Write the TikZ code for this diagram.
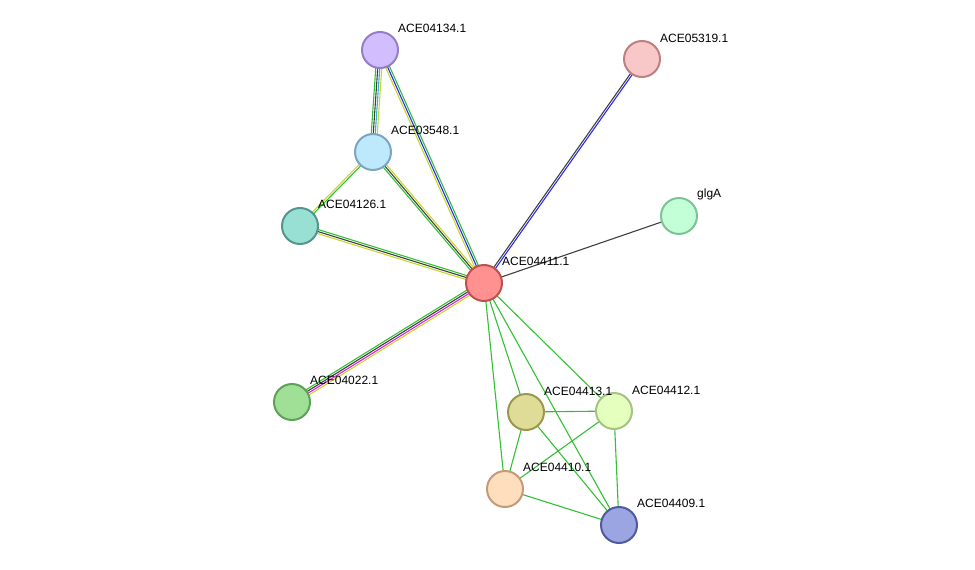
\documentclass[tikz,border=0pt]{standalone}
\usepackage{fontspec}
\setmainfont{Liberation Sans}
\usetikzlibrary{calc}
\definecolor{eg}{HTML}{33C033}
\definecolor{ey}{HTML}{C4D92A}
\definecolor{ek}{HTML}{404040}
\definecolor{eb}{HTML}{2A2AF0}
\definecolor{ec}{HTML}{30B0D8}
\definecolor{em}{HTML}{E020E0}
\newcommand\ed[4]{\draw[line width=1.1pt,#4] ($(#1)!#3!90:(#2)$) -- ($(#2)!#3!-90:(#1)$);}
\begin{document}
\begin{tikzpicture}[x=1pt,y=-1pt,
  prot/.style={circle,minimum size=36pt,inner sep=0pt,line width=2pt},
  lab/.style={anchor=west,font=\fontsize{12}{12}\selectfont,inner sep=1pt}]
\useasboundingbox (0,0) rectangle (975,570);
\coordinate (a134) at (380,50);
\coordinate (a319) at (642,59);
\coordinate (a548) at (373,152);
\coordinate (glg) at (679,216);
\coordinate (a126) at (300,226);
\coordinate (a411) at (484,283);
\coordinate (a022) at (292,402);
\coordinate (a413) at (526,412);
\coordinate (a412) at (614,411);
\coordinate (a410) at (505,489);
\coordinate (a409) at (619,525);
% edges
\ed{a134}{a548}{-3pt}{eg}\ed{a134}{a548}{-1pt}{ek}\ed{a134}{a548}{1pt}{ec}\ed{a134}{a548}{3pt}{ey}
\ed{a134}{a411}{-2pt}{ey}\ed{a134}{a411}{0pt}{eb}\ed{a134}{a411}{2pt}{eg}
\ed{a548}{a126}{-1pt}{ey}\ed{a548}{a126}{1pt}{eg}
\ed{a548}{a411}{-2pt}{eg}\ed{a548}{a411}{0pt}{ek}\ed{a548}{a411}{2pt}{ey}
\ed{a126}{a411}{-2pt}{ey}\ed{a126}{a411}{0pt}{ek}\ed{a126}{a411}{2pt}{eg}
\ed{a022}{a411}{-3pt}{ey}\ed{a022}{a411}{-1pt}{em}\ed{a022}{a411}{1pt}{ek}\ed{a022}{a411}{3pt}{eg}
\ed{a319}{a411}{-1pt}{ek}\ed{a319}{a411}{1pt}{eb}
\ed{glg}{a411}{0pt}{ek}
\foreach \u/\v in {a411/a413,a411/a412,a411/a410,a411/a409,a413/a412,a413/a410,a413/a409,a412/a410,a412/a409,a410/a409}
  {\ed{\u}{\v}{0pt}{eg}}
% nodes
\node[prot,fill=blue!20!violet!25,draw=violet!60!gray,fill={rgb,255:red,210;green,190;blue,255},draw={rgb,255:red,150;green,125;blue,200}] (n134) at (a134) {};
\node[prot,fill={rgb,255:red,248;green,200;blue,200},draw={rgb,255:red,190;green,128;blue,128}] (n319) at (a319) {};
\node[prot,fill={rgb,255:red,190;green,232;blue,252},draw={rgb,255:red,125;green,165;blue,195}] (n548) at (a548) {};
\node[prot,fill={rgb,255:red,195;green,255;blue,215},draw={rgb,255:red,125;green,195;blue,150}] (nglg) at (glg) {};
\node[prot,fill={rgb,255:red,152;green,224;blue,212},draw={rgb,255:red,85;green,150;blue,140}] (n126) at (a126) {};
\node[prot,fill={rgb,255:red,255;green,145;blue,145},draw={rgb,255:red,190;green,80;blue,80}] (n411) at (a411) {};
\node[prot,fill={rgb,255:red,160;green,224;blue,150},draw={rgb,255:red,95;green,160;blue,90}] (n022) at (a022) {};
\node[prot,fill={rgb,255:red,222;green,220;blue,150},draw={rgb,255:red,155;green,150;blue,80}] (n413) at (a413) {};
\node[prot,fill={rgb,255:red,228;green,255;blue,190},draw={rgb,255:red,165;green,195;blue,130}] (n412) at (a412) {};
\node[prot,fill={rgb,255:red,255;green,222;blue,190},draw={rgb,255:red,195;green,155;blue,120}] (n410) at (a410) {};
\node[prot,fill={rgb,255:red,155;green,165;blue,225},draw={rgb,255:red,80;green,90;blue,160}] (n409) at (a409) {};
% labels
\node[lab] at (397,28) {ACE04134.1};
\node[lab] at (659,38) {ACE05319.1};
\node[lab] at (390,130) {ACE03548.1};
\node[lab] at (696,194) {glgA};
\node[lab] at (317,204) {ACE04126.1};
\node[lab] at (501,261) {ACE04411.1};
\node[lab] at (309,380) {ACE04022.1};
\node[lab] at (543,391) {ACE04413.1};
\node[lab] at (631,390) {ACE04412.1};
\node[lab] at (522,467) {ACE04410.1};
\node[lab] at (636,503) {ACE04409.1};
\end{tikzpicture}
\end{document}
